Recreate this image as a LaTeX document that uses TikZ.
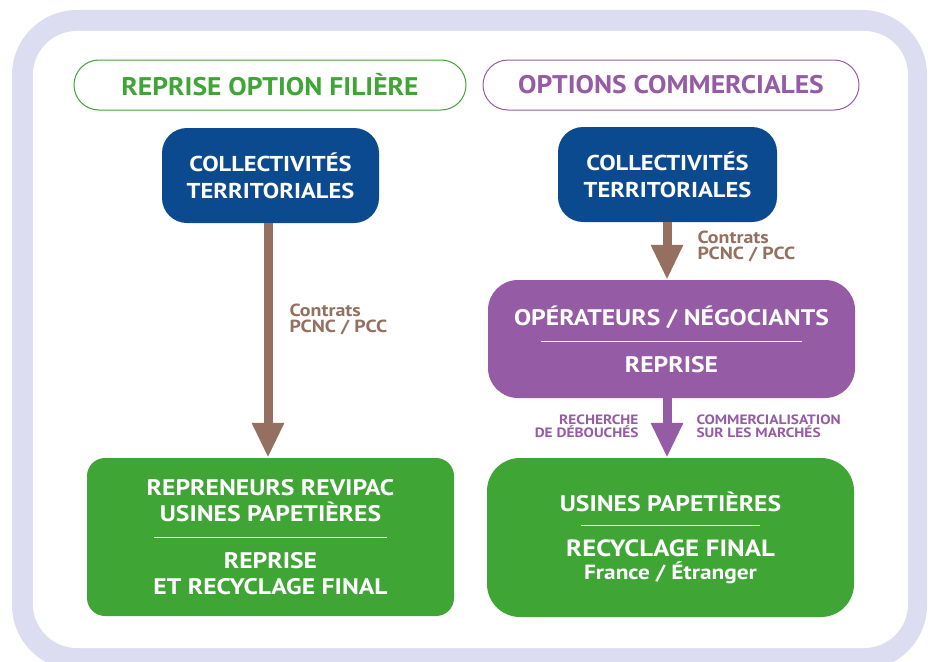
\documentclass[tikz,border=0pt]{standalone}
\usepackage{fontspec}
\setmainfont{PT Sans}[FakeStretch=1.14]
\newfontfamily\headfont{PT Sans}[FakeStretch=1.08]
\usetikzlibrary{arrows.meta,positioning}

\definecolor{framelav}{HTML}{DCDDF0}
\definecolor{blueCT}{HTML}{0C4A90}
\definecolor{greenR}{HTML}{3FA535}
\definecolor{purpleO}{HTML}{955BA5}
\definecolor{brownC}{HTML}{957060}

\tikzset{
  pill/.style={draw, line width=1pt, fill=white, rounded corners=25pt,
    minimum height=50pt, inner sep=0pt,
    font=\headfont\fontsize{25.5}{30}\selectfont\bfseries},
  cbox/.style={rounded corners=#1, inner sep=0pt, align=center, text=white},
  flow/.style={line width=9pt, -{Triangle[length=35pt,width=30pt]}},
  lbl/.style={font=\fontsize{17.5}{16.5}\selectfont\bfseries, inner sep=0pt},
  slbl/.style={font=\fontsize{13.5}{12.5}\selectfont\bfseries, inner sep=0pt}
}

\begin{document}
\begin{tikzpicture}[x=1pt,y=-1pt]
\clip (0,0) rectangle (933,661);
% frame
\fill[framelav, rounded corners=65pt] (12,10) rectangle (927,670);
\fill[white, rounded corners=44pt] (33,31) rectangle (908,648);

% headers
\node [pill, draw=greenR, text=greenR, minimum width=392pt] (headL)
    at (270,85) {REPRISE OPTION FILIÈRE};
\node [pill, draw=purpleO, text=purpleO, minimum width=376pt] (headR)
    at (671,85) {OPTIONS COMMERCIALES};

% left column
\node [cbox=25pt, fill=blueCT, minimum width=217pt, minimum height=95pt,
    font=\fontsize{21.5}{27}\selectfont\bfseries
    ] (collL) at (270.5,175.5) {COLLECTIVITÉS\\TERRITORIALES};
\node [cbox=18pt, fill=greenR, minimum width=367pt, minimum height=158pt,
    font=\fontsize{22.5}{26}\selectfont\bfseries
    ] (repL) at (270.5,537) {REPRENEURS REVIPAC\\USINES PAPETIÈRES\\
    \rule[9.4pt]{233pt}{1.2pt}\\[-5pt]
    REPRISE\\ET RECYCLAGE FINAL};
\draw[flow, brownC] (collL.south -| 268,0) -- (repL.north -| 268,0)
    node[lbl, text=brownC, pos=.41, right=17pt, align=left]
    {Contrats\\PCNC / PCC};

% right column
\node [cbox=25pt, fill=blueCT, minimum width=219pt, minimum height=95pt,
    font=\fontsize{21.5}{27}\selectfont\bfseries
    ] (collR) at (667.5,174.5) {COLLECTIVITÉS\\TERRITORIALES};
\node [cbox=30pt, fill=purpleO, minimum width=367pt, minimum height=118pt,
    font=\fontsize{22.5}{27}\selectfont\bfseries
    ] (opR) at (671.5,339) {OPÉRATEURS / NÉGOCIANTS\\
    \rule[10.4pt]{261pt}{1.2pt}\\[-7pt]
    REPRISE};
\node [cbox=33pt, fill=greenR, minimum width=367pt, minimum height=159pt,
    font=\fontsize{22.5}{27}\selectfont\bfseries
    ] (usineR) at (670.5,537.5) {USINES PAPETIÈRES\\
    \rule[12.4pt]{179pt}{1.2pt}\\[-9pt]
    {\fontsize{23.5}{27}\selectfont RECYCLAGE FINAL}\\[-4pt]
    {\fontsize{20.5}{22}\selectfont France / Étranger}};
\draw[flow, brownC] (collR.south -| 667,0) -- (opR.north -| 667,0)
    node[lbl, text=brownC, pos=.42, right=26pt, align=left]
    {Contrats\\PCNC / PCC};
\draw[flow, purpleO] (opR.south -| 667,0) -- (usineR.north -| 667,0)
    node[slbl, text=purpleO, pos=.475, left=24pt, align=right]
    {RECHERCHE\\DE DÉBOUCHÉS}
    node[slbl, text=purpleO, pos=.475, right=25pt, align=left]
    {COMMERCIALISATION\\SUR LES MARCHÉS};
\end{tikzpicture}
\end{document}
